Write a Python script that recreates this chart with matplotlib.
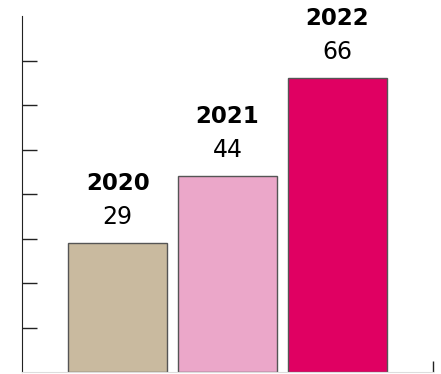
import matplotlib.pyplot as plt
import numpy as np

years = ["2020", "2021", "2022"]
values = [29, 44, 66]
colors = ["#C9BA9F", "#EBA7C9", "#E00062"]
y_ticks = [10, 20, 30, 40, 50, 60, 70]

fig = plt.figure(figsize=(4.41, 3.74), dpi=100)
ax = fig.add_axes([0.05, 0.005, 0.932, 0.952])

x = np.arange(len(years))
ax.bar(x, values, width=0.9, color=colors, edgecolor="#555555", linewidth=1)

for xi, year, v in zip(x, years, values):
    ax.annotate(v, (xi, v), xytext=(0, 19), textcoords="offset pixels",
                ha="center", va="baseline", fontsize=17)
    ax.annotate(year, (xi, v), xytext=(0, 53), textcoords="offset pixels",
                ha="center", va="baseline", fontsize=16.5, fontweight="bold")

x_right = 2.87
ax.set_xlim(-0.87, x_right)
ax.set_ylim(0, 80)

ax.set_yticks(y_ticks)
ax.set_yticklabels([])
ax.tick_params(axis="y", direction="in", length=11, width=1, color="#222222")
ax.set_xticks([x_right])
ax.set_xticklabels([])
ax.tick_params(axis="x", direction="in", length=8, width=1, color="#222222")

ax.spines["top"].set_visible(False)
ax.spines["right"].set_visible(False)
ax.spines["bottom"].set_color("#dddddd")
ax.spines["left"].set_color("#222222")

fig.savefig("out.png", dpi=100)
